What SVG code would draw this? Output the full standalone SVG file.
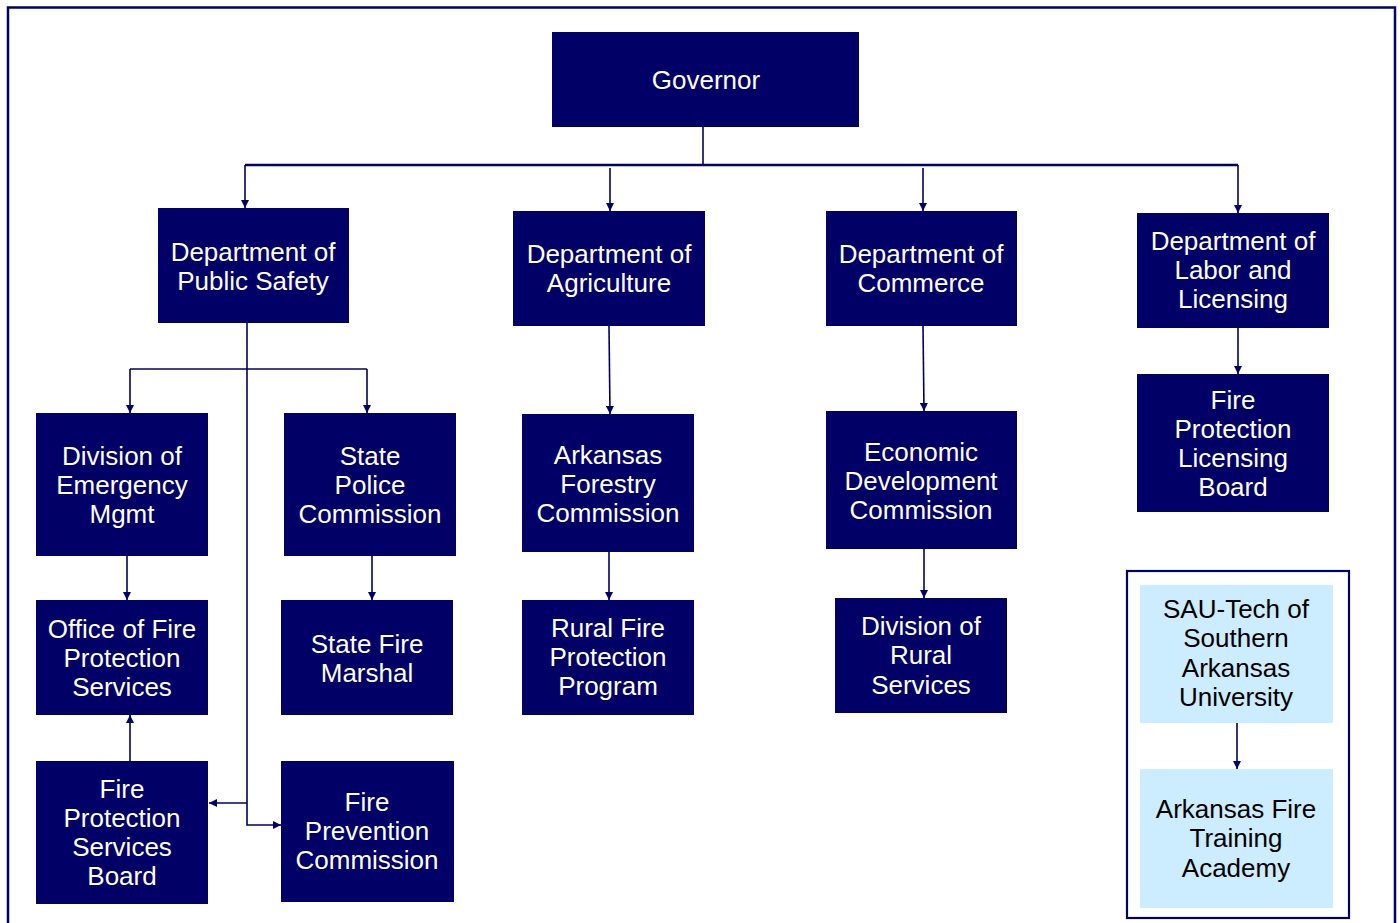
<svg xmlns="http://www.w3.org/2000/svg" width="1400" height="923" viewBox="0 0 1400 923">
<defs>
<style>
.n{fill:#000066}
.l{fill:#CCECFF}
.t{font-family:"Liberation Sans",Arial,sans-serif;font-size:26px;fill:#ffffff;text-anchor:middle}
.tk{font-family:"Liberation Sans",Arial,sans-serif;font-size:26px;fill:#000000;text-anchor:middle}
.c{stroke:#000066;stroke-width:1.6;fill:none}
.cb{stroke:#000066;stroke-width:2.4;fill:none}
</style>
<marker id="a" viewBox="0 0 10 10" refX="10" refY="5" markerWidth="8" markerHeight="8" markerUnits="userSpaceOnUse" orient="auto">
<path d="M0,0 L10,5 L0,10 Z" fill="#000066"/>
</marker>
</defs>
<rect x="0" y="0" width="1400" height="923" fill="#ffffff"/>
<rect x="8" y="7.5" width="1387" height="930" fill="none" stroke="#000066" stroke-width="2.5"/>
<rect x="1127" y="571" width="222" height="347" fill="none" stroke="#000066" stroke-width="2.2"/>

<g id="connectors">
<path class="c" d="M703,127 V165"/>
<path class="cb" d="M245,165 H1238"/>
<path class="c" d="M245,165 V208" marker-end="url(#a)"/>
<path class="c" d="M610,168 V211" marker-end="url(#a)"/>
<path class="c" d="M923,168 V211" marker-end="url(#a)"/>
<path class="c" d="M1238,165 V213" marker-end="url(#a)"/>
<path class="c" d="M247,323 V825 H281" marker-end="url(#a)"/>
<path class="c" d="M130,369 H367"/>
<path class="c" d="M130,369 V413" marker-end="url(#a)"/>
<path class="c" d="M367,369 V413" marker-end="url(#a)"/>
<path class="c" d="M127,556 V600" marker-end="url(#a)"/>
<path class="c" d="M372,556 V600" marker-end="url(#a)"/>
<path class="c" d="M130,761 V715" marker-end="url(#a)"/>
<path class="c" d="M247,803 H209" marker-end="url(#a)"/>
<path class="c" d="M609,326 L610,414" marker-end="url(#a)"/>
<path class="c" d="M609,552 V600" marker-end="url(#a)"/>
<path class="c" d="M923,326 L924,411" marker-end="url(#a)"/>
<path class="c" d="M924,549 V598" marker-end="url(#a)"/>
<path class="c" d="M1238,328 V374" marker-end="url(#a)"/>
<path class="c" d="M1237,723 V769" marker-end="url(#a)"/>
</g>

<g id="governor"><rect class="n" x="552" y="32" width="307" height="95"/><text class="t" x="706" y="89">Governor</text></g>

<g id="dps"><rect class="n" x="158" y="208" width="191" height="115"/><text class="t" x="253" y="261">Department of</text><text class="t" x="253" y="290">Public Safety</text></g>
<g id="dag"><rect class="n" x="513" y="211" width="192" height="115"/><text class="t" x="609" y="263">Department of</text><text class="t" x="609" y="292">Agriculture</text></g>
<g id="dcom"><rect class="n" x="826" y="211" width="191" height="115"/><text class="t" x="921" y="263">Department of</text><text class="t" x="921" y="292">Commerce</text></g>
<g id="dlab"><rect class="n" x="1137" y="213" width="192" height="115"/><text class="t" x="1233" y="250">Department of</text><text class="t" x="1233" y="279">Labor and</text><text class="t" x="1233" y="308">Licensing</text></g>

<g id="dem"><rect class="n" x="36" y="413" width="172" height="143"/><text class="t" x="122" y="465">Division of</text><text class="t" x="122" y="494">Emergency</text><text class="t" x="122" y="523">Mgmt</text></g>
<g id="spc"><rect class="n" x="284" y="413" width="172" height="143"/><text class="t" x="370" y="465">State</text><text class="t" x="370" y="494">Police</text><text class="t" x="370" y="523">Commission</text></g>
<g id="afc"><rect class="n" x="522" y="414" width="172" height="138"/><text class="t" x="608" y="464">Arkansas</text><text class="t" x="608" y="493">Forestry</text><text class="t" x="608" y="522">Commission</text></g>
<g id="edc"><rect class="n" x="826" y="411" width="191" height="138"/><text class="t" x="921" y="461">Economic</text><text class="t" x="921" y="490">Development</text><text class="t" x="921" y="519">Commission</text></g>
<g id="fplb"><rect class="n" x="1137" y="374" width="192" height="138"/><text class="t" x="1233" y="409">Fire</text><text class="t" x="1233" y="438">Protection</text><text class="t" x="1233" y="467">Licensing</text><text class="t" x="1233" y="496">Board</text></g>

<g id="ofps"><rect class="n" x="36" y="600" width="172" height="115"/><text class="t" x="122" y="638">Office of Fire</text><text class="t" x="122" y="667">Protection</text><text class="t" x="122" y="696">Services</text></g>
<g id="sfm"><rect class="n" x="281" y="600" width="172" height="115"/><text class="t" x="367" y="653">State Fire</text><text class="t" x="367" y="682">Marshal</text></g>
<g id="rfpp"><rect class="n" x="522" y="600" width="172" height="115"/><text class="t" x="608" y="637">Rural Fire</text><text class="t" x="608" y="666">Protection</text><text class="t" x="608" y="695">Program</text></g>
<g id="drs"><rect class="n" x="835" y="598" width="172" height="115"/><text class="t" x="921" y="635">Division of</text><text class="t" x="921" y="664">Rural</text><text class="t" x="921" y="694">Services</text></g>

<g id="fpsb"><rect class="n" x="36" y="761" width="172" height="143"/><text class="t" x="122" y="798">Fire</text><text class="t" x="122" y="827">Protection</text><text class="t" x="122" y="856">Services</text><text class="t" x="122" y="885">Board</text></g>
<g id="fpc"><rect class="n" x="281" y="761" width="173" height="141"/><text class="t" x="367" y="811">Fire</text><text class="t" x="367" y="840">Prevention</text><text class="t" x="367" y="869">Commission</text></g>

<g id="sau"><rect class="l" x="1140" y="585" width="193" height="138"/><text class="tk" x="1236" y="618">SAU-Tech of</text><text class="tk" x="1236" y="647">Southern</text><text class="tk" x="1236" y="677">Arkansas</text><text class="tk" x="1236" y="706">University</text></g>
<g id="afta"><rect class="l" x="1140" y="769" width="193" height="139"/><text class="tk" x="1236" y="818">Arkansas Fire</text><text class="tk" x="1236" y="847">Training</text><text class="tk" x="1236" y="877">Academy</text></g>
</svg>
